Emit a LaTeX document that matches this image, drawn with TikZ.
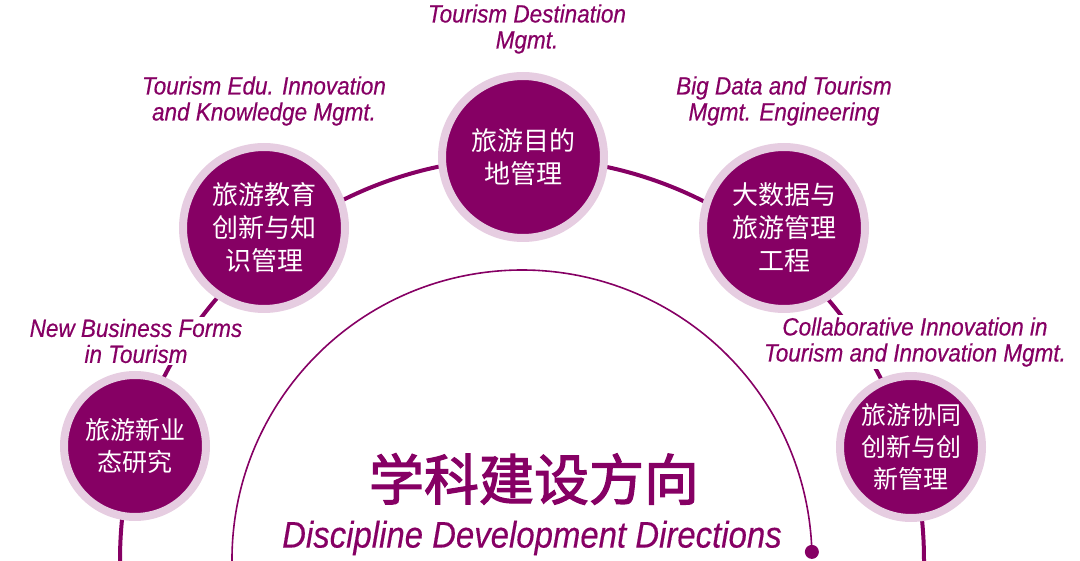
\documentclass[tikz,border=0pt]{standalone}
\usepackage{fontspec}
\usetikzlibrary{calc}
\newfontfamily\cjk{Noto Sans CJK SC}
\newfontfamily\cjkb[FakeBold=2.2]{Noto Sans CJK SC}
\newfontfamily\labfont[FakeStretch=0.9,FakeBold=0.4]{Liberation Sans}
\newfontfamily\ttlfont[FakeStretch=0.89,FakeBold=0.3]{Liberation Sans}
\definecolor{dkp}{HTML}{860064}
\definecolor{ltp}{HTML}{E6CDE1}
\begin{document}
\begin{tikzpicture}[x=1pt,y=-1pt,
  bignode/.style={circle, fill=dkp, draw=ltp, line width=8pt, minimum size=162pt, inner sep=0pt, text=white, align=center, font=\cjk\fontsize{26}{33}\selectfont},
  smallnode/.style={bignode, minimum size=142pt, font=\cjk\fontsize{25}{32}\selectfont},
  lbl/.style={fill=white, inner sep=2pt, text=dkp, align=center, font=\labfont\itshape\fontsize{25}{26}\selectfont},
  ttl/.style={text=dkp, inner sep=0pt}]
\useasboundingbox (0,0) rectangle (1080,561);
\clip (0,0) rectangle (1080,561);
\coordinate (C) at (522,560);
% outer thick arc
\draw[dkp, line width=4pt] (C) circle[radius=402];
% inner thin arc with end dot
\draw[dkp, line width=1.6pt] ($(C)+(175:290)$) arc[start angle=175, end angle=358.4, radius=290] coordinate (dotc);
\fill[dkp] (dotc) circle[radius=7];
% labels
\node[lbl] (l1) at (136,341) {New Business Forms\\in Tourism};
\node[lbl] (l2) at (264,101) {Tourism Edu. Innovation\\and Knowledge Mgmt.};
\node[lbl] (l3) at (527,29) {Tourism Destination\\Mgmt.};
\node[lbl] (l4) at (784,101) {Big Data and Tourism\\Mgmt. Engineering};
\node[lbl] (l5) at (915,342) {Collaborative Innovation in\\Tourism and Innovation Mgmt.};
% circles
\node[smallnode] (n1) at (135,446) {旅游新业\\态研究};
\node[bignode] (n2) at (264,228) {旅游教育\\创新与知\\识管理};
\node[bignode] (n3) at (523,157) {旅游目的\\地管理};
\node[bignode] (n4) at (784,228) {大数据与\\旅游管理\\工程};
\node[smallnode] (n5) at (911,447) {旅游协同\\创新与创\\新管理};
% title
\node[ttl, font=\cjkb\fontsize{55}{60}\selectfont] (t1) at (534,479) {学科建设方向};
\node[ttl, font=\ttlfont\itshape\fontsize{37}{40}\selectfont] (t2) at (532,538) {Discipline Development Directions};
\end{tikzpicture}
\end{document}
